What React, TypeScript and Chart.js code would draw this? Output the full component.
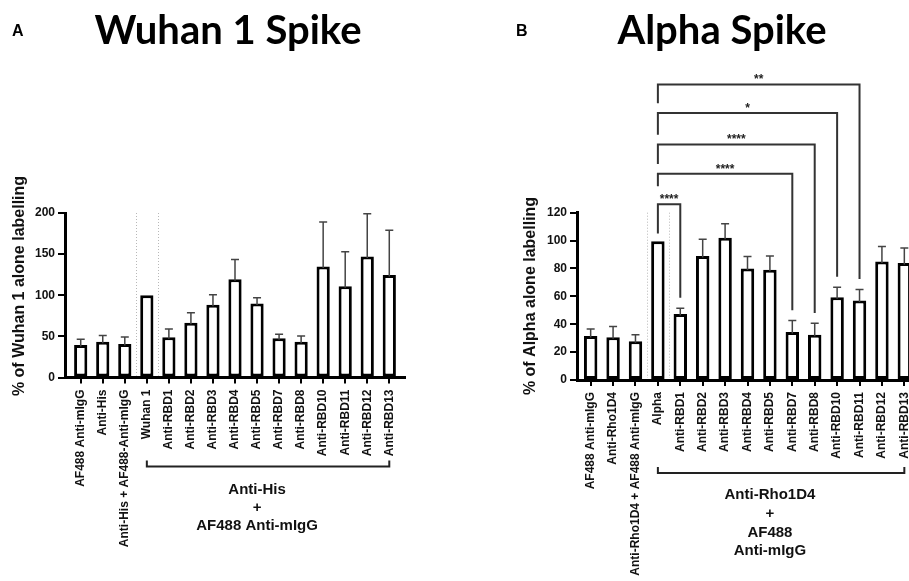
import React, { useEffect, useRef } from 'react';
import { Chart, registerables } from 'chart.js';

Chart.register(...registerables);

const FONT = '"Liberation Sans", Arial, Helvetica, sans-serif';

// ---------- Panel A data ----------
const catsA = [
  'AF488 Anti-mIgG', 'Anti-His', 'Anti-His + AF488-Anti-mIgG', 'Wuhan 1',
  'Anti-RBD1', 'Anti-RBD2', 'Anti-RBD3', 'Anti-RBD4', 'Anti-RBD5', 'Anti-RBD7',
  'Anti-RBD8', 'Anti-RBD10', 'Anti-RBD11', 'Anti-RBD12', 'Anti-RBD13',
];
const valuesA = [39.5, 43.5, 40.7, 100, 49, 66.7, 88.6, 119.5, 90, 47.6, 43.5, 135, 111, 147, 124.5];
const sdA = [7, 7.7, 8.5, 0, 10, 12, 12, 24, 7, 5, 7, 54, 42, 52, 54.5];
const yMaxA = 200;
const yStepA = 50;
const groupLinesA = ['Anti-His', '+', 'AF488 Anti-mIgG'];

// ---------- Panel B data ----------
const catsB = [
  'AF488 Anti-mIgG', 'Anti-Rho1D4', 'Anti-Rho1D4 + AF488 Anti-mIgG', 'Alpha',
  'Anti-RBD1', 'Anti-RBD2', 'Anti-RBD3', 'Anti-RBD4', 'Anti-RBD5', 'Anti-RBD7',
  'Anti-RBD8', 'Anti-RBD10', 'Anti-RBD11', 'Anti-RBD12', 'Anti-RBD13',
];
const valuesB = [31.5, 30.6, 27.8, 99.5, 47.4, 89, 102, 80, 79, 34.5, 32.5, 59.3, 57, 85, 84];
const sdB = [5, 7.7, 4.7, 0, 4, 12, 10, 8.5, 10, 8.2, 8.2, 7.2, 8, 10.7, 10.7];
const yMaxB = 120;
const yStepB = 20;
const groupLinesB = ['Anti-Rho1D4', '+', 'AF488', 'Anti-mIgG'];

// significance brackets (category indices, levels in data units)
const sigFrom = [3, 3, 3, 3, 3];
const sigTo = [4, 9, 10, 11, 12];
const sigLevel = [126, 148, 169, 191.5, 212];
const sigLeftEnd = [105, 139, 155, 176, 198.5];
const sigRightEnd = [59, 50, 48, 74, 72.5];
const sigLabels = ['****', '****', '****', '*', '**'];

type PanelProps = {
  cats: string[];
  values: number[];
  sds: number[];
  yMax: number;
  yStep: number;
  xMin: number;
  xMax: number;
  left: number;
  width: number;
  axisWidth: number;
  padRight: number;
  top: number;
  xAxisHeight: number;
  yTitle: string;
  yTitleX: number;
  yTitleY: number;
  groupLines: string[];
  groupFrom: number;
  groupTo: number;
  groupCenter: number;
  groupBracketOffset: number;
  groupTextOffset: number;
  groupLineGap: number;
  withSig: boolean;
};

function Panel(p: PanelProps) {
  const ref = useRef<HTMLCanvasElement>(null);
  useEffect(() => {
    if (!ref.current) return;
    const extras = {
      id: 'extras',
      beforeDatasetsDraw(chart: any) {
        const { ctx, chartArea, scales } = chart;
        const x = scales.x;
        ctx.save();
        ctx.strokeStyle = '#b8b8b8';
        ctx.lineWidth = 1;
        ctx.setLineDash([1, 2]);
        [p.groupFrom - 0.5, p.groupFrom + 0.5].forEach((v) => {
          const px = Math.round(x.getPixelForValue(v)) + 0.5;
          ctx.beginPath();
          ctx.moveTo(px, chartArea.top);
          ctx.lineTo(px, chartArea.bottom - 2);
          ctx.stroke();
        });
        ctx.restore();
      },
      afterDatasetsDraw(chart: any) {
        const { ctx, scales } = chart;
        const x = scales.x;
        const y = scales.y;
        ctx.save();
        ctx.strokeStyle = '#444';
        ctx.lineWidth = 1.5;
        p.values.forEach((v, i) => {
          const sd = p.sds[i];
          if (!sd) return;
          const px = x.getPixelForValue(i);
          const y0 = y.getPixelForValue(v) + 1.5;
          const y1 = y.getPixelForValue(v + sd);
          ctx.beginPath();
          ctx.moveTo(px, y0);
          ctx.lineTo(px, y1);
          ctx.moveTo(px - 4, y1);
          ctx.lineTo(px + 4, y1);
          ctx.stroke();
        });
        ctx.restore();
      },
      afterDraw(chart: any) {
        const { ctx, chartArea, scales } = chart;
        const x = scales.x;
        const y = scales.y;
        ctx.save();
        // y title
        ctx.translate(p.yTitleX, p.yTitleY);
        ctx.rotate(-Math.PI / 2);
        ctx.fillStyle = '#111';
        ctx.font = `bold 16px ${FONT}`;
        ctx.textAlign = 'center';
        ctx.textBaseline = 'middle';
        ctx.fillText(p.yTitle, 0, 0);
        ctx.restore();

        // group bracket under labels
        ctx.save();
        ctx.strokeStyle = '#222';
        ctx.lineWidth = 2;
        const by = chartArea.bottom + p.groupBracketOffset;
        const bx0 = x.getPixelForValue(p.groupFrom);
        const bx1 = x.getPixelForValue(p.groupTo);
        ctx.beginPath();
        ctx.moveTo(bx0, by - 6);
        ctx.lineTo(bx0, by);
        ctx.lineTo(bx1, by);
        ctx.lineTo(bx1, by - 6);
        ctx.stroke();
        ctx.fillStyle = '#111';
        ctx.font = `bold 15px ${FONT}`;
        ctx.textAlign = 'center';
        ctx.textBaseline = 'middle';
        const cx = x.getPixelForValue(p.groupCenter);
        p.groupLines.forEach((line, i) => {
          ctx.fillText(line, cx, chartArea.bottom + p.groupTextOffset + i * p.groupLineGap);
        });
        ctx.restore();

        if (p.withSig) {
          ctx.save();
          ctx.strokeStyle = '#333';
          ctx.lineWidth = 2;
          ctx.fillStyle = '#222';
          ctx.font = `bold 12px ${FONT}`;
          ctx.textAlign = 'center';
          ctx.textBaseline = 'alphabetic';
          sigLabels.forEach((lab, i) => {
            const xa = x.getPixelForValue(sigFrom[i]);
            const xb = x.getPixelForValue(sigTo[i]);
            const yl = y.getPixelForValue(sigLevel[i]);
            ctx.beginPath();
            ctx.moveTo(xa, y.getPixelForValue(sigLeftEnd[i]));
            ctx.lineTo(xa, yl);
            ctx.lineTo(xb, yl);
            ctx.lineTo(xb, y.getPixelForValue(sigRightEnd[i]));
            ctx.stroke();
            ctx.fillText(lab, (xa + xb) / 2, yl - 1);
          });
          ctx.restore();
        }
      },
    };

    const tickFont = { family: FONT, size: 12, weight: 'bold' as const };
    const chart = new Chart(ref.current, {
      type: 'bar',
      data: {
        datasets: [
          {
            data: p.values.map((v, i) => ({ x: i, y: v })),
            backgroundColor: '#ffffff',
            borderColor: '#000000',
            borderWidth: 3,
            borderSkipped: false,
            categoryPercentage: 1,
            barPercentage: 0.6,
          } as any,
        ],
      },
      options: {
        responsive: false,
        animation: false,
        events: [],
        layout: { padding: { top: p.top, right: p.padRight, left: 0, bottom: 0 } },
        plugins: {
          legend: { display: false },
          tooltip: { enabled: false },
          title: { display: false },
        },
        scales: {
          x: {
            type: 'linear',
            min: p.xMin,
            max: p.xMax,
            offset: false,
            afterBuildTicks: (s: any) => {
              s.ticks = p.cats.map((_, i) => ({ value: i }));
            },
            afterFit: (s: any) => {
              s.height = p.xAxisHeight;
            },
            ticks: {
              autoSkip: false,
              minRotation: 90,
              maxRotation: 90,
              padding: 6,
              color: '#111',
              font: tickFont,
              callback: (v: any) => p.cats[v as number] ?? '',
            },
            grid: {
              offset: false,
              drawOnChartArea: false,
              drawTicks: true,
              tickLength: 6,
              tickWidth: 2,
              color: '#000',
              lineWidth: 2,
            },
            border: { display: true, color: '#000', width: 3 },
          } as any,
          y: {
            type: 'linear',
            min: 0,
            max: p.yMax,
            afterFit: (s: any) => {
              s.width = p.axisWidth;
            },
            ticks: {
              stepSize: p.yStep,
              padding: 3,
              color: '#111',
              font: tickFont,
            },
            grid: {
              drawOnChartArea: false,
              drawTicks: true,
              tickLength: 7,
              tickWidth: 2,
              color: '#000',
              lineWidth: 2,
            },
            border: { display: true, color: '#000', width: 3 },
          } as any,
        },
      },
      plugins: [extras],
    } as any);
    return () => chart.destroy();
  }, []);
  return (
    <canvas
      ref={ref}
      width={p.width}
      height={581}
      style={{ position: 'absolute', left: p.left, top: 0, width: p.width, height: 581 }}
    />
  );
}

export default function App() {
  return (
    <div
      style={{
        position: 'absolute',
        left: 0,
        top: 0,
        width: 909,
        height: 581,
        overflow: 'hidden',
        background: '#ffffff',
      }}
    >
      <Panel
        cats={catsA}
        values={valuesA}
        sds={sdA}
        yMax={yMaxA}
        yStep={yStepA}
        xMin={-0.713}
        xMax={14.713}
        left={0}
        width={470}
        axisWidth={65}
        padRight={65}
        top={213}
        xAxisHeight={203.5}
        yTitle="% of Wuhan 1 alone labelling"
        yTitleX={20}
        yTitleY={286}
        groupLines={groupLinesA}
        groupFrom={3}
        groupTo={14}
        groupCenter={8}
        groupBracketOffset={89}
        groupTextOffset={112}
        groupLineGap={18}
        withSig={false}
      />
      <Panel
        cats={catsB}
        values={valuesB}
        sds={sdB}
        yMax={yMaxB}
        yStep={yStepB}
        xMin={-0.61}
        xMax={14.61}
        left={500}
        width={430}
        axisWidth={77}
        padRight={12}
        top={212.7}
        xAxisHeight={201}
        yTitle="% of Alpha alone labelling"
        yTitleX={31}
        yTitleY={296}
        groupLines={groupLinesB}
        groupFrom={3}
        groupTo={14}
        groupCenter={8}
        groupBracketOffset={93}
        groupTextOffset={115}
        groupLineGap={18.7}
        withSig={true}
      />
      <div style={{ position: 'absolute', left: 12, top: 22, font: `bold 16px ${FONT}`, lineHeight: '18px', color: '#000' }}>A</div>
      <div style={{ position: 'absolute', left: 28, width: 400, textAlign: 'center', top: 5, font: 'bold 40px Lato', lineHeight: '48px', color: '#000' }}>Wuhan 1 Spike</div>
      <div style={{ position: 'absolute', left: 516, top: 22, font: `bold 16px ${FONT}`, lineHeight: '18px', color: '#000' }}>B</div>
      <div style={{ position: 'absolute', left: 522, width: 400, textAlign: 'center', top: 5, font: 'bold 40px Lato', lineHeight: '48px', color: '#000' }}>Alpha Spike</div>
    </div>
  );
}
